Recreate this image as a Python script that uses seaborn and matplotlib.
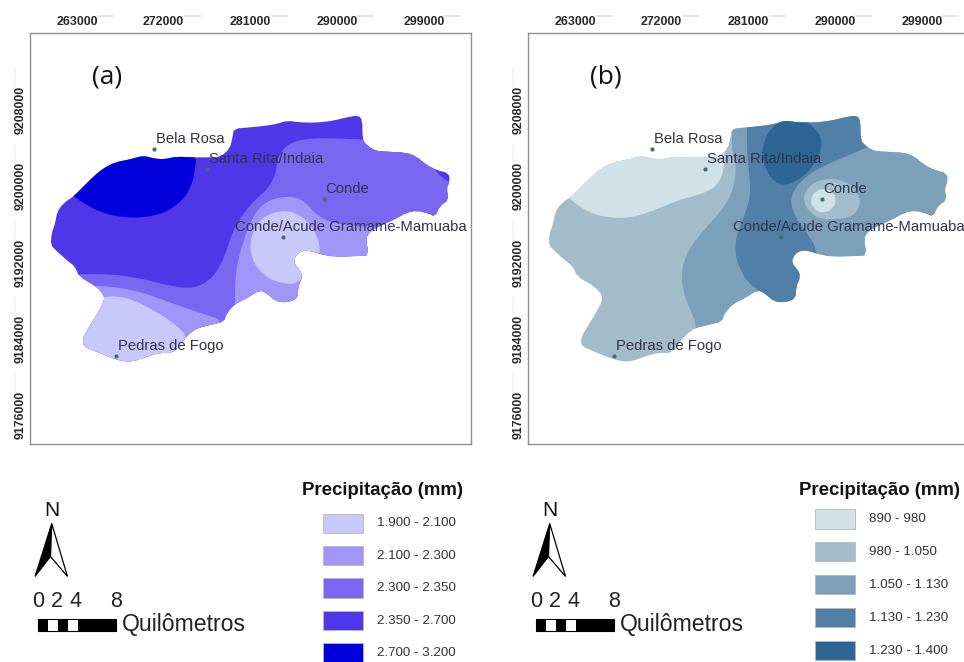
import matplotlib
matplotlib.use("Agg")
import matplotlib.pyplot as plt
from matplotlib.patches import Polygon, Rectangle
import pandas as pd
import seaborn as sns

# map shapes were traced off the sheet, in trace units (see to_east / to_north)
OUTLINE = [
    (152, 735), (155, 700), (165, 672), (172, 635), (190, 610), (222, 588), (250, 560), (280, 530),
    (310, 505), (345, 487), (390, 478), (430, 467), (460, 475), (490, 478), (530, 470), (575, 472),
    (615, 472), (660, 472), (690, 445), (698, 410), (702, 386), (750, 382), (790, 378), (830, 372),
    (860, 362), (900, 367), (950, 368), (1000, 362), (1040, 352), (1075, 346), (1087, 360), (1088, 420),
    (1100, 435), (1125, 452), (1160, 455), (1220, 458), (1250, 470), (1280, 495), (1310, 510), (1347, 520),
    (1349, 545), (1340, 565), (1346, 600), (1320, 618), (1305, 650), (1285, 640), (1250, 632), (1220, 638),
    (1180, 660), (1135, 680), (1110, 695), (1098, 715), (1106, 767), (1075, 768), (1000, 770), (960, 762),
    (930, 752), (905, 752), (885, 770), (882, 790), (900, 810), (907, 830), (895, 860), (892, 897),
    (860, 907), (830, 905), (800, 880), (780, 870), (740, 895), (705, 912), (680, 940), (672, 965),
    (630, 975), (590, 985), (570, 1000), (555, 1015), (520, 1060), (480, 1058), (440, 1070), (400, 1084),
    (370, 1084), (330, 1072), (290, 1055), (252, 1040), (248, 1015), (265, 985), (290, 945), (312, 905),
    (312, 885), (290, 860), (238, 830), (225, 800), (200, 780), (172, 755),
]

# panel (a) zones, painted in this order over the 2.350 - 2.700 base
A_2300_WEST_EAST = [
    (1088, 418), (1000, 415), (930, 415), (880, 425), (850, 445), (832, 480), (828, 520), (805, 565),
    (770, 595), (730, 640), (700, 690), (680, 750), (665, 790), (640, 830), (600, 858), (560, 865),
    (500, 855), (420, 835), (340, 823), (240, 822), (100, 822), (100, 1200), (1400, 1200), (1400, 700),
    (1360, 550), (1335, 540), (1305, 510), (1250, 440), (1100, 420),
]
A_2700_NW = [
    (222, 590), (260, 615), (310, 640), (370, 652), (430, 653), (490, 640), (530, 615), (560, 585),
    (578, 545), (585, 510), (590, 465), (500, 440), (300, 460), (190, 560),
]
A_2100_SOUTH = [
    (285, 858), (340, 860), (420, 875), (490, 900), (560, 925), (620, 945), (672, 962), (672, 1100),
    (200, 1100), (200, 858),
]
A_2100_EAST = [
    (705, 950), (705, 880), (708, 810), (725, 740), (750, 670), (775, 625), (810, 600), (850, 590),
    (890, 592), (920, 610), (945, 640), (985, 665), (1040, 675), (1100, 680), (1135, 680), (1200, 700),
    (1200, 950),
]
A_1900_SOUTH = [
    (312, 892), (350, 888), (400, 900), (450, 925), (500, 955), (540, 985), (560, 1010), (560, 1100),
    (200, 1100), (200, 892),
]
A_1900_EAST = [
    (960, 762), (958, 730), (945, 695), (920, 660), (885, 638), (850, 632), (810, 640), (775, 665),
    (755, 705), (750, 745), (760, 785), (785, 820), (820, 842), (860, 852), (895, 850), (930, 800),
]

# panel (b) zones, painted in this order over the 980 - 1.050 base
B_890_NW = [
    (214, 595), (252, 625), (302, 648), (362, 655), (422, 648), (482, 625), (542, 600), (602, 585),
    (647, 565), (667, 540), (677, 510), (680, 470), (680, 440), (300, 440), (180, 560),
]
B_1050_EAST = [
    (597, 975), (577, 930), (557, 880), (550, 820), (562, 770), (592, 720), (632, 675), (672, 630),
    (697, 590), (712, 540), (714, 490), (702, 450), (702, 385), (702, 300), (1500, 300), (1500, 1200),
    (597, 1200),
]
B_1130_CENTRE = [
    (787, 873), (752, 850), (727, 810), (712, 765), (714, 710), (742, 640), (757, 590), (755, 530),
    (747, 460), (747, 385), (747, 300), (1150, 300), (1150, 420), (1102, 445), (1042, 470), (982, 495),
    (922, 530), (887, 570), (877, 610), (897, 660), (927, 700), (962, 755), (962, 950), (787, 950),
]
B_1230_NORTH = [
    (792, 460), (797, 430), (812, 395), (842, 365), (900, 345), (937, 372), (967, 405), (972, 440),
    (957, 480), (927, 520), (892, 545), (857, 557), (822, 540), (800, 500),
]
B_980_CONDE = [
    (914, 600), (928, 562), (965, 539), (1010, 535), (1058, 552), (1083, 585), (1087, 615), (1068, 648),
    (1020, 658), (975, 658), (938, 642),
]
B_890_CONDE = [
    (936, 602), (950, 576), (975, 565), (1003, 573), (1016, 600), (1004, 627), (975, 640), (950, 630),
]

STATIONS = ["Bela Rosa", "Santa Rita/Indaia", "Conde", "Conde/Acude Gramame-Mamuaba", "Pedras de Fogo"]
STATION_X = [463, 620, 972, 849, 347]
STATION_Y = [448, 507, 597, 711, 1067]
LABEL_X = [468, 626, 977, 705, 354]
LABEL_Y = [416, 476, 566, 680, 1037]

EAST_TICKS = [263000, 272000, 281000, 290000, 299000]
NORTH_TICKS = [9208000, 9200000, 9192000, 9184000, 9176000]

COLORS_A = ["#c9c8fb", "#a295fa", "#7a66f0", "#4f36e8", "#0000dc"]
COLORS_B = ["#d0e1e7", "#a3bccb", "#7ca0b9", "#507fa8", "#2d6595"]
LABELS_A = ["1.900 - 2.100", "2.100 - 2.300", "2.300 - 2.350", "2.350 - 2.700", "2.700 - 3.200"]
LABELS_B = ["890 - 980", "980 - 1.050", "1.050 - 1.130", "1.130 - 1.230", "1.230 - 1.400"]


def to_east(x):
    return 263000 + (x - 231) * 34.6


def to_north(y):
    return 9208000 - (y - 330) * 34.97


def round_corners(shape, passes):
    # corner cutting, the traced shapes are otherwise visibly angular
    for _ in range(passes):
        out = []
        for (x0, y0), (x1, y1) in zip(shape, shape[1:] + shape[:1]):
            out.append((0.75 * x0 + 0.25 * x1, 0.75 * y0 + 0.25 * y1))
            out.append((0.25 * x0 + 0.75 * x1, 0.25 * y0 + 0.75 * y1))
        shape = out
    return shape


def paint(ax, shape, color, clip=None, passes=2):
    shape = round_corners(shape, passes)
    xs = [to_east(p[0]) for p in shape]
    ys = [to_north(p[1]) for p in shape]
    patch = ax.fill(xs, ys, color=color, lw=0)[0]
    if clip is not None:
        patch.set_clip_path(clip)
    return patch


def draw_map(ax, tag, base, zones):
    outline = paint(ax, OUTLINE, base, passes=1)
    for shape, color in zones:
        paint(ax, shape, color, clip=outline)

    stations = pd.DataFrame({
        "east": [to_east(x) for x in STATION_X],
        "north": [to_north(y) for y in STATION_Y],
    })
    sns.scatterplot(data=stations, x="east", y="north", color="#3a7278", s=9, linewidth=0, ax=ax, zorder=4)
    for name, x, y in zip(STATIONS, LABEL_X, LABEL_Y):
        ax.text(to_east(x), to_north(y), name, fontsize=10.7, color="#33334a", va="center", ha="left", zorder=5)

    ax.set_xlim(to_east(91), to_east(1412))
    ax.set_ylim(to_north(1333), to_north(98))
    ax.set_xlabel("")
    ax.set_ylabel("")
    ax.xaxis.tick_top()
    ax.set_xticks(EAST_TICKS, [str(v) for v in EAST_TICKS], fontweight="bold", fontsize=8.9, color="#2a2a2a")
    ax.set_yticks(NORTH_TICKS, [str(v) for v in NORTH_TICKS], fontweight="bold", fontsize=8.9, color="#2a2a2a",
                  rotation=90, va="center")
    ax.tick_params(axis="x", length=0, pad=3.5)
    ax.tick_params(axis="y", length=0, pad=3)
    for side in ax.spines.values():
        side.set_color("#8f8f8f")
        side.set_linewidth(1.0)

    # faint leftovers next to the coordinate labels
    for v in EAST_TICKS:
        ax.plot([v + 2210, v + 3770], [to_north(47)] * 2, color="#e2e2e2", lw=1.3, clip_on=False)
    for v in NORTH_TICKS:
        ax.plot([to_east(45)] * 2, [v + 2450, v + 4370], color="#f3f3f3", lw=1.3, clip_on=False)

    ax.text(to_east(277), to_north(232), tag, fontsize=19, family="Open Sans", color="#111111",
            va="center", ha="left")


def draw_furniture(ax, dx, title_x, swatch_x, label_x, first_y, step, colors, labels):
    # north arrow and scale bar share the same layout in both panels
    ax.text(dx + 51.7, 510, "N", fontsize=15, ha="center", va="center", color="#111111")
    ax.add_patch(Polygon([(dx + 51.7, 523.5), (dx + 35, 576.5), (dx + 50.5, 556.5)], fc="black", ec="black", lw=0.8))
    ax.add_patch(Polygon([(dx + 51.7, 523.5), (dx + 67.5, 576.5), (dx + 50.5, 556.5)], fc="white", ec="black", lw=0.9))
    for digit, x in zip(["0", "2", "4", "8"], [38.5, 56.7, 76, 115.7]):
        ax.text(dx + x, 601.5, digit, fontsize=15.5, ha="center", va="center", color="#222222")
    for x0, x1, col in [(38, 48, "black"), (48, 57.5, "white"), (57.5, 67.5, "black"),
                        (67.5, 77.5, "white"), (77.5, 116, "black")]:
        ax.add_patch(Rectangle((dx + x0, 619), x1 - x0, 12, fc=col, ec="none"))
    ax.add_patch(Rectangle((dx + 38, 619), 78, 12, fc="none", ec="black", lw=0.8))
    ax.text(dx + 121.5, 624, "Quilômetros", fontsize=16.6, ha="left", va="center", color="#222222")

    ax.text(title_x, 490.5, "Precipitação (mm)", fontsize=13.4, fontweight="bold", ha="left", va="center",
            color="#111111")
    for i, (col, lab) in enumerate(zip(colors, labels)):
        y = first_y + i * step
        ax.add_patch(Rectangle((swatch_x, y), 40, 19.5, fc=col, ec="#b8b8b8", lw=0.6))
        ax.text(label_x, y + 10, lab, fontsize=9.6, ha="left", va="center", color="#333333")


sns.set_theme(style="white")
plt.rcParams["font.family"] = ["Liberation Sans", "DejaVu Sans"]

fig = plt.figure(figsize=(9.64, 6.62), dpi=100)
W, H = 964.0, 662.0

ax_a = fig.add_axes([30.3 / W, 1 - 444.3 / H, 440.3 / W, 411.6 / H])
ax_b = fig.add_axes([528.3 / W, 1 - 444.3 / H, 440.3 / W, 411.6 / H])

palette_a = sns.color_palette(COLORS_A)
palette_b = sns.color_palette(COLORS_B)

draw_map(ax_a, "(a)", palette_a[3], [
    (A_2300_WEST_EAST, palette_a[2]),
    (A_2700_NW, palette_a[4]),
    (A_2100_SOUTH, palette_a[1]),
    (A_2100_EAST, palette_a[1]),
    (A_1900_SOUTH, palette_a[0]),
    (A_1900_EAST, palette_a[0]),
])
draw_map(ax_b, "(b)", palette_b[1], [
    (B_890_NW, palette_b[0]),
    (B_1050_EAST, palette_b[2]),
    (B_1130_CENTRE, palette_b[3]),
    (B_1230_NORTH, palette_b[4]),
    (B_980_CONDE, palette_b[1]),
    (B_890_CONDE, palette_b[0]),
])

# lower strip is laid out in figure pixels
strip = fig.add_axes([0, 0, 1, 1], facecolor="none")
strip.set_xlim(0, W)
strip.set_ylim(H, 0)
strip.axis("off")
draw_furniture(strip, 0, 301.7, 323, 376.7, 513.5, 32.4, palette_a, LABELS_A)
draw_furniture(strip, 498, 799, 815.3, 869.3, 509, 32.9, palette_b, LABELS_B)

fig.savefig("out.png", dpi=100)
plt.close(fig)
